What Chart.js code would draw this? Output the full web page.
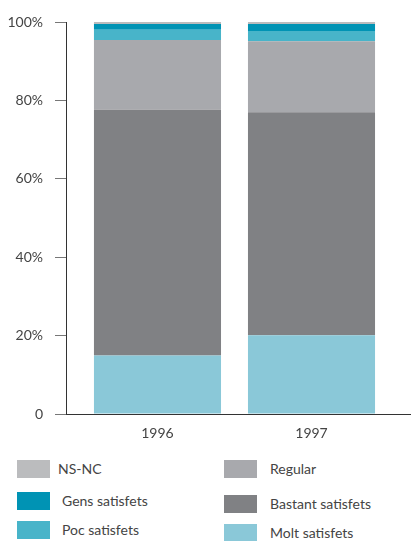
<!DOCTYPE html>
<html>
<head>
<meta charset="utf-8">
<script src="https://cdn.jsdelivr.net/npm/chart.js@4/dist/chart.umd.min.js"></script>
<style>
  body { margin: 0; background: #fff; }
  #wrap { position: relative; width: 411px; height: 541px; font-family: Lato, sans-serif; color: #444; }
  #myChart { position: absolute; left: 0; top: 0; }
  .item { position: absolute; height: 18px; font-size: 14px; }
  .item span.box { position: absolute; left: 0; top: 0; width: 33px; height: 18px; }
  .item span.txt { position: absolute; top: 0; line-height: 18px; white-space: nowrap; }
</style>
</head>
<body>
<div id="wrap">
  <canvas id="myChart" width="411" height="450"></canvas>
  <div id="legend"></div>
</div>
<script>
const years = [1996, 1997];

// percentages, bottom of the stack first
const moltSatisfets = [14.9, 20.1];
const bastantSatisfets = [62.7, 56.9];
const regular = [17.8, 18.1];
const pocSatisfets = [2.6, 2.6];
const gensSatisfets = [1.5, 1.8];
const nsNc = [0.5, 0.5];

const yTicks = [0, 20, 40, 60, 80, 100];

function serie(values) {
    return years.map((yr, i) => ({ x: yr, y: values[i] }));
}

const datasets = [
    { label: 'Molt satisfets', data: serie(moltSatisfets), backgroundColor: '#8ac8d8' },
    { label: 'Bastant satisfets', data: serie(bastantSatisfets), backgroundColor: '#808184' },
    { label: 'Regular', data: serie(regular), backgroundColor: '#a8a9ad' },
    { label: 'Poc satisfets', data: serie(pocSatisfets), backgroundColor: '#48b4c9' },
    { label: 'Gens satisfets', data: serie(gensSatisfets), backgroundColor: '#0093b4' },
    { label: 'NS-NC', data: serie(nsNc), backgroundColor: '#bbbcbe' },
];
datasets.forEach(d => { d.barPercentage = 0.825; d.categoryPercentage = 1; d.borderWidth = 0; });

const config = {
    type: 'bar',
    data: { datasets: datasets },
    options: {
        responsive: false,
        animation: false,
        layout: { padding: { top: 22, right: 0, left: 0, bottom: 0 } },
        plugins: { legend: { display: false }, tooltip: { enabled: false } },
        scales: {
            x: {
                type: 'linear',
                stacked: true,
                offset: false,
                min: 1995.406,
                max: 1997.646,
                grid: { display: false, drawTicks: false, offset: false },
                border: { display: true, color: '#333', width: 1 },
                ticks: {
                    stepSize: 1,
                    includeBounds: false,
                    padding: 11,
                    color: '#444',
                    font: { family: 'Lato', size: 14 },
                    callback: v => String(v)
                },
                afterFit: s => { s.height = 36; }
            },
            y: {
                stacked: true,
                min: 0,
                max: 100,
                grid: { drawOnChartArea: false, tickLength: 11, color: '#777' },
                border: { display: true, color: '#333', width: 1 },
                afterBuildTicks: s => { s.ticks = yTicks.map(v => ({ value: v })); },
                ticks: {
                    padding: 12,
                    color: '#444',
                    font: { family: 'Lato', size: 14 },
                    callback: v => v === 0 ? '0' : v + '%'
                },
                afterFit: s => { s.width = 66; }
            }
        }
    }
};

const myChart = new Chart(document.getElementById('myChart'), config);

// legend in two columns, like the original
const legendSlots = [
    { label: 'NS-NC', left: 17, top: 460, textX: 41 },
    { label: 'Gens satisfets', left: 17, top: 492, textX: 45 },
    { label: 'Poc satisfets', left: 17, top: 521, textX: 45 },
    { label: 'Regular', left: 224, top: 460, textX: 46 },
    { label: 'Bastant satisfets', left: 224, top: 495, textX: 46 },
    { label: 'Molt satisfets', left: 224, top: 524, textX: 46 },
];
const legend = document.getElementById('legend');
legendSlots.forEach(slot => {
    const ds = myChart.data.datasets.find(d => d.label === slot.label);
    const item = document.createElement('div');
    item.className = 'item';
    item.style.left = slot.left + 'px';
    item.style.top = slot.top + 'px';
    item.innerHTML = '<span class="box" style="background:' + ds.backgroundColor + '"></span>' +
        '<span class="txt" style="left:' + slot.textX + 'px">' + ds.label + '</span>';
    legend.appendChild(item);
});
</script>
</body>
</html>
